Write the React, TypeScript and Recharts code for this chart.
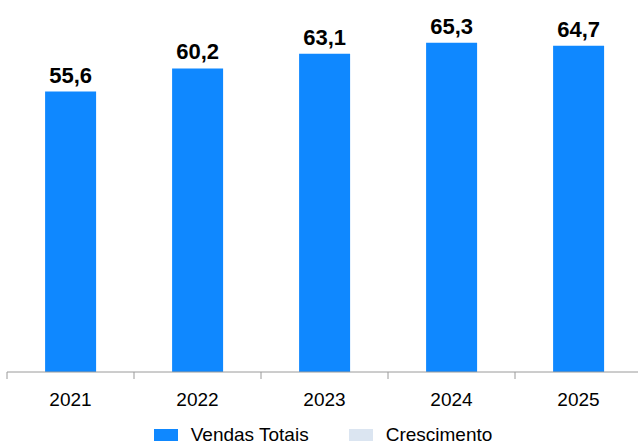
import React from 'react';
import { BarChart, Bar, XAxis, YAxis, LabelList } from 'recharts';

// Anos e vendas totais
const anos = ['2021', '2022', '2023', '2024', '2025'];
const vendasTotais = [55.6, 60.2, 63.1, 65.3, 64.7];
const legendas = ['Vendas Totais', 'Crescimento'];

const BLUE = '#0f88ff';
const LIGHT = '#dbe5f1';
const FONT = '"Liberation Sans", Arial, sans-serif';

const data = anos.map((ano, i) => ({ ano, vendas: vendasTotais[i] }));

const BAND = 127;

// tick label plus the separator tick at the left edge of each band
const renderTick = (props: any) => {
  const { x, y, payload } = props;
  return (
    <g>
      <line x1={x - BAND / 2} y1={y} x2={x - BAND / 2} y2={y + 7} stroke="#9a9a9a" strokeWidth={1} />
      <text x={x} y={y + 34} textAnchor="middle" fill="#000" fontSize={19} fontFamily={FONT}>
        {payload.value}
      </text>
    </g>
  );
};

const App = () => {
  return (
    <div style={{ position: 'absolute', left: 0, top: 0, width: 638, height: 448, overflow: 'hidden', background: '#fff' }}>
      <BarChart
        width={650}
        height={448}
        data={data}
        margin={{ top: 19, right: 8, bottom: 32, left: 7 }}
        barCategoryGap="30%"
      >
        <YAxis hide domain={[0, 70]} />
        <XAxis
          dataKey="ano"
          axisLine={{ stroke: '#9a9a9a' }}
          tickLine={false}
          tickSize={0}
          tickMargin={0}
          tick={renderTick}
          height={44}
          interval={0}
        />
        <Bar dataKey="vendas" fill={BLUE} isAnimationActive={false}>
          <LabelList
            dataKey="vendas"
            position="top"
            offset={9}
            formatter={(v: any) => String(v).replace('.', ',')}
            style={{ fontSize: 22, fontWeight: 'bold', fill: '#000', fontFamily: FONT }}
          />
        </Bar>
      </BarChart>
      <div
        style={{
          position: 'absolute',
          top: 424,
          left: 0,
          width: 638,
          display: 'flex',
          justifyContent: 'center',
          fontFamily: FONT,
          fontSize: 19,
          color: '#000',
        }}
      >
        {legendas.map((nome, i) => (
          <div key={nome} style={{ display: 'flex', alignItems: 'center', marginRight: i === 0 ? 40 : 0, marginLeft: i === 0 ? 8 : 0 }}>
            <span style={{ display: 'inline-block', width: 24, height: 12, background: i === 0 ? BLUE : LIGHT, marginRight: 13 }} />
            <span>{nome}</span>
          </div>
        ))}
      </div>
    </div>
  );
};

export default App;
